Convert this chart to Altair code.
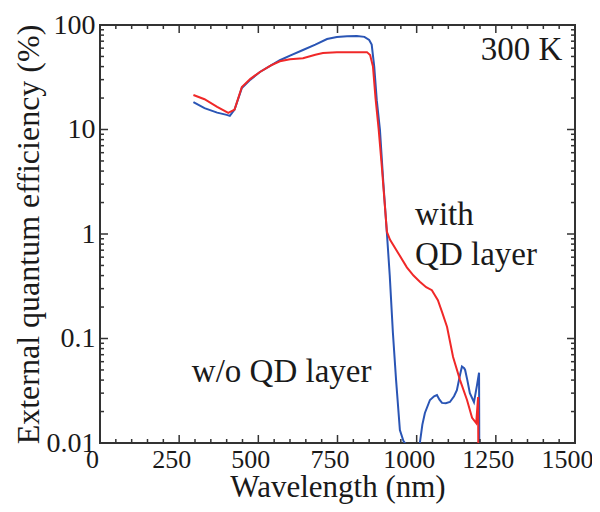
import altair as alt
import pandas as pd

# ---- data ----
wl_blue = [295, 330, 370, 400, 410, 425, 448, 475, 505, 540, 568, 600, 641, 680, 717, 748, 780, 811,
           835, 850, 858, 866, 874, 884, 895, 906, 915, 925, 935, 947, 958, 963, 975, 1000, 1010,
           1018, 1026, 1042, 1055, 1064, 1072, 1080, 1092, 1105, 1118, 1127, 1137, 1143, 1150, 1153,
           1160, 1168, 1181, 1190, 1197, 1198]
eqe_blue = [18.3, 16.0, 14.5, 13.8, 13.5, 15.5, 25, 30, 35.5, 41, 46, 51, 57.7, 65, 73.5, 76.7, 78, 78.5,
            77, 72, 65, 40, 19.1, 10, 3, 1.02, 0.4, 0.113, 0.04, 0.0133, 0.0105, 0.01, 0.005, 0.005, 0.01,
            0.015, 0.0194, 0.0258, 0.028, 0.0288, 0.026, 0.0242, 0.024, 0.0247, 0.028, 0.032, 0.045, 0.054, 0.052, 0.05,
            0.04, 0.030, 0.0246, 0.035, 0.047, 0.005]

wl_red = [295, 330, 370, 405, 425, 448, 475, 505, 540, 568, 600, 641, 680, 704, 748, 800, 843, 853,
          862, 870, 880, 890, 900, 906, 916, 940, 969, 990, 1010, 1030, 1048, 1067, 1080, 1096, 1115,
          1137, 1159, 1175, 1188, 1194, 1195]
eqe_red = [21.4, 19.5, 16.5, 14.4, 15.5, 25.5, 30.5, 35.5, 41, 45, 47, 48, 52, 54, 55, 55, 55, 51.6,
           40, 20, 10, 4.4, 1.8, 1.05, 0.88, 0.67, 0.48, 0.40, 0.35, 0.31, 0.29, 0.233, 0.18, 0.129, 0.0665,
           0.040, 0.0258, 0.0174, 0.0155, 0.0275, 0.005]

x_major = [0, 250, 500, 750, 1000, 1250, 1500]
x_minor = [v for v in range(0, 1501, 50) if v not in x_major]
y_major = [0.01, 0.1, 1, 10, 100]
y_minor = [m * d for d in [0.01, 0.1, 1, 10] for m in range(2, 10)]

ann_text = ["300 K", "with", "QD layer", "w/o QD layer"]
ann_x = [1460, 995, 995, 290]
ann_y = [57.7, 1.52, 0.63, 0.048]
ann_align = ["right", "left", "left", "left"]

W, H = 475, 418
FONT = "Liberation Serif"
TXT = "#1a1a1a"

xs = alt.Scale(domain=[0, 1500], nice=False)
ys = alt.Scale(type="log", domain=[0.01, 100], nice=False)

common = dict(ticks=False, domain=False, grid=False, labelFont=FONT, titleFont=FONT,
              labelColor=TXT, titleColor=TXT, titleFontWeight="normal", labelOverlap=False,
              labelFlush=False)
x_axis = alt.Axis(values=x_major, format="d", title="Wavelength (nm)",
                  labelFontSize=26, titleFontSize=31,
                  labelOffset=-8, labelPadding=3, titleBaseline="alphabetic", titleY=53,
                  **common)
y_axis = alt.Axis(values=y_major, format="~g", title="External quantum efficiency (%)",
                  labelFontSize=28, titleFontSize=32,
                  labelPadding=5, titlePadding=1, **common)

def X():
    return alt.X("wl:Q", scale=xs, axis=x_axis)

def Y():
    return alt.Y("eqe:Q", scale=ys, axis=y_axis)

blue = pd.DataFrame({"wl": wl_blue, "eqe": eqe_blue})
red = pd.DataFrame({"wl": wl_red, "eqe": eqe_red})

blue_line = alt.Chart(blue).mark_line(color="#2a55b5", strokeWidth=2, clip=True).encode(
    x=X(), y=Y(), order="wl:Q")
red_line = alt.Chart(red).mark_line(color="#f02828", strokeWidth=2, clip=True).encode(
    x=X(), y=Y(), order="wl:Q")

TC = "#333333"

def xticks(vals, length):
    df = pd.DataFrame({"wl": vals})
    b = alt.Chart(df).mark_rule(color=TC, strokeWidth=1.5).encode(
        x=X(), y=alt.value(H), y2=alt.value(H - length))
    t = alt.Chart(df).mark_rule(color=TC, strokeWidth=1.5).encode(
        x=X(), y=alt.value(0), y2=alt.value(length))
    return [b, t]

def yticks(vals, length):
    df = pd.DataFrame({"eqe": vals})
    l = alt.Chart(df).mark_rule(color=TC, strokeWidth=1.5).encode(
        y=Y(), x=alt.value(0), x2=alt.value(length))
    r = alt.Chart(df).mark_rule(color=TC, strokeWidth=1.5).encode(
        y=Y(), x=alt.value(W), x2=alt.value(W - length))
    return [l, r]

ann = pd.DataFrame({"t": ann_text, "wl": ann_x, "eqe": ann_y, "al": ann_align})
texts = []
for al in ["left", "right"]:
    texts.append(alt.Chart(ann[ann["al"] == al]).mark_text(
        font=FONT, fontSize=33, align=al, baseline="middle", color=TXT).encode(
        x=X(), y=Y(), text="t:N"))

layers = [blue_line, red_line] + xticks(x_major, 8) + xticks(x_minor, 4) + \
    yticks(y_major, 8) + yticks(y_minor, 4) + texts

chart = alt.layer(*layers).properties(
    width=W, height=H,
    background="white",
    autosize=alt.AutoSizeParams(type="none"),
    padding={"left": 92, "top": 17, "right": 17, "bottom": 61},
).configure_view(stroke=TC, strokeWidth=2)

chart.save("out.html", embed_options={"renderer": "svg", "actions": False})
